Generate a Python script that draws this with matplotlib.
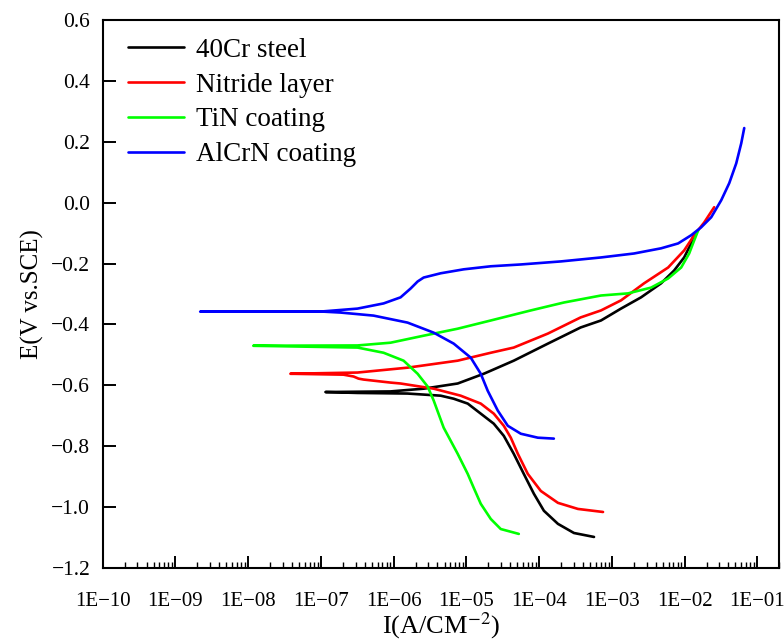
import numpy as np
import matplotlib
matplotlib.use("Agg")
import matplotlib.pyplot as plt
from matplotlib.ticker import LogLocator, FixedLocator, NullFormatter

plt.rcParams["font.family"] = ["Liberation Serif", "DejaVu Serif"]
plt.rcParams["mathtext.fontset"] = "stix"

# Potentiodynamic polarization curves: log10 of current density and potential (V vs. SCE).
# Each curve runs from the cathodic tail, through the corrosion potential, up the anodic branch.
steel_logi = [-3.246, -3.522, -3.742, -3.935, -4.073, -4.211, -4.349, -4.486, -4.624, -4.803,
              -4.982, -5.175, -5.354, -5.809, -6.5, -6.938,
              -6.5, -6.043, -5.588, -5.120, -4.762, -4.665, -4.349, -3.88, -3.43, -3.150,
              -2.875, -2.599, -2.324, -2.145, -2.007, -1.910, -1.869]
steel_e = [-1.098, -1.085, -1.055, -1.012, -0.956, -0.891, -0.825, -0.766, -0.726, -0.693,
           -0.660, -0.644, -0.634, -0.627, -0.625, -0.622,
           -0.621, -0.620, -0.611, -0.594, -0.562, -0.552, -0.519, -0.463, -0.410, -0.387,
           -0.348, -0.311, -0.265, -0.223, -0.180, -0.134, -0.101]

nitride_logi = [-3.122, -3.467, -3.742, -3.977, -4.156, -4.293, -4.390, -4.486, -4.624, -4.803,
                -5.079, -5.450, -5.905, -6.043, -6.415, -6.483, -6.552, -6.690, -7.420,
                -6.497, -5.809, -5.120, -4.665, -4.35, -3.88, -3.43, -3.150, -2.875, -2.558,
                -2.227, -2.007, -1.869, -1.731, -1.594]
nitride_e = [-1.016, -1.006, -0.986, -0.947, -0.891, -0.825, -0.772, -0.733, -0.693, -0.660,
             -0.634, -0.611, -0.594, -0.591, -0.581, -0.578, -0.571, -0.565, -0.562,
             -0.558, -0.542, -0.519, -0.493, -0.476, -0.430, -0.377, -0.354, -0.321, -0.265,
             -0.213, -0.157, -0.107, -0.065, -0.015]

tin_logi = [-4.280, -4.528, -4.665, -4.803, -4.899, -4.982, -5.120, -5.313, -5.450, -5.533,
            -5.671, -5.864, -6.139, -6.497, -7.930,
            -6.497, -6.043, -5.588, -5.120, -4.665, -4.115, -3.66, -3.150, -2.778, -2.461,
            -2.227, -2.048, -1.938, -1.869, -1.814]
tin_e = [-1.088, -1.072, -1.039, -0.989, -0.937, -0.891, -0.825, -0.739, -0.650, -0.604,
         -0.562, -0.519, -0.493, -0.476, -0.470,
         -0.469, -0.460, -0.437, -0.414, -0.387, -0.354, -0.328, -0.305, -0.298, -0.279,
         -0.249, -0.213, -0.167, -0.124, -0.091]

alcrn_logi = [-3.798, -4.018, -4.252, -4.431, -4.569, -4.707, -4.803, -4.941, -5.175, -5.450,
              -5.809, -6.277, -6.731, -6.966, -8.660,
              -6.966, -6.497, -6.139, -5.905, -5.767, -5.671, -5.588, -5.354, -5.037, -4.665,
              -4.25, -3.70, -3.150, -2.696, -2.324, -2.090, -1.910, -1.773, -1.635, -1.497,
              -1.387, -1.291, -1.222, -1.181]
alcrn_e = [-0.775, -0.772, -0.759, -0.733, -0.683, -0.618, -0.562, -0.509, -0.463, -0.427,
           -0.394, -0.371, -0.361, -0.358, -0.358,
           -0.357, -0.348, -0.331, -0.311, -0.282, -0.259, -0.246, -0.232, -0.219, -0.209,
           -0.203, -0.193, -0.180, -0.167, -0.150, -0.134, -0.107, -0.081, -0.048, 0.008,
           0.064, 0.129, 0.195, 0.245]

labels = ["40Cr steel", "Nitride layer", "TiN coating", "AlCrN coating"]
colors = ["black", "#ff0000", "#00ff00", "#0000ff"]

x_ticks = [1e-10, 1e-9, 1e-8, 1e-7, 1e-6, 1e-5, 1e-4, 1e-3, 1e-2, 1e-1]
x_ticklabels = ["1E\u221210", "1E\u221209", "1E\u221208", "1E\u221207", "1E\u221206",
                "1E\u221205", "1E\u221204", "1E\u221203", "1E\u221202", "1E\u221201"]
y_ticks = [-1.2, -1.0, -0.8, -0.6, -0.4, -0.2, 0.0, 0.2, 0.4, 0.6]

fig = plt.figure(figsize=(7.84, 6.44), dpi=100)
ax = fig.add_axes([0.131, 0.118, 0.863, 0.851])

curves = [(steel_logi, steel_e), (nitride_logi, nitride_e), (tin_logi, tin_e), (alcrn_logi, alcrn_e)]
for (logi, e), lab, c in zip(curves, labels, colors):
    ax.plot(10.0 ** np.array(logi), e, color=c, lw=1.9, label=lab,
            solid_joinstyle="round", solid_capstyle="round")

ax.set_xscale("log")
ax.set_xlim(1e-10, 0.2)
ax.set_ylim(-1.2, 0.6)
ax.xaxis.set_major_locator(FixedLocator(x_ticks))
ax.set_xticklabels(x_ticklabels)
ax.xaxis.set_minor_locator(LogLocator(base=10, subs=np.arange(2, 10), numticks=20))
ax.xaxis.set_minor_formatter(NullFormatter())
ax.set_yticks(y_ticks)

for s in ax.spines.values():
    s.set_linewidth(1.5)
ax.tick_params(axis="both", which="major", direction="in", length=9, width=1.4)
ax.tick_params(axis="x", which="minor", direction="in", length=4.5, width=1.0)
ax.tick_params(axis="x", which="major", pad=17, labelsize=15)
ax.tick_params(axis="y", which="major", pad=9, labelsize=15.5)

ax.set_xlabel("I(A/CM$^{-2}$)", fontsize=19, labelpad=0)
ax.set_ylabel("E(V vs.SCE)", fontsize=18, labelpad=5)

ax.legend(loc="upper left", bbox_to_anchor=(0.022, 0.987), frameon=False, fontsize=19.5,
          handlelength=2.05, handletextpad=0.44, labelspacing=0.36, borderaxespad=0,
          borderpad=0.4)

fig.savefig("out.png", dpi=100)
